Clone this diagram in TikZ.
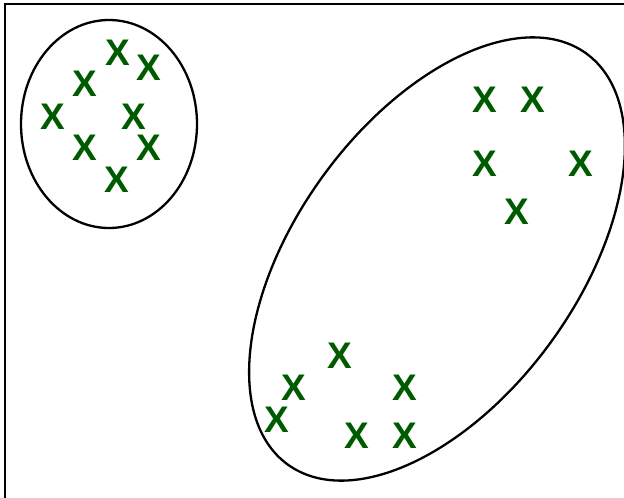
\documentclass[tikz,border=0pt]{standalone}
\usepackage{fontspec}
\setmainfont{Liberation Sans}
\usepackage{tikz}
\definecolor{ClusterGreen}{HTML}{005A00}

\begin{document}
\begin{tikzpicture}[x=1pt,y=-1pt,
    pt/.style={text=ClusterGreen,font=\fontsize{37}{37}\selectfont\bfseries,inner sep=0pt},
    ring/.style={draw=black,line width=2.3pt}
  ]
    \clip (0,0) rectangle (624,498);
    \draw[line width=2.6pt] (5,4) rectangle (660,530);
    % small cluster
    \draw[ring] (109,124) ellipse [x radius=88pt,y radius=104pt];
    \node[pt] (a1) at (118,53) {X};
    \node[pt] (a2) at (149,68) {X};
    \node[pt] (a3) at (85,84) {X};
    \node[pt] (a4) at (53,117) {X};
    \node[pt] (a5) at (134,117) {X};
    \node[pt] (a6) at (85,148) {X};
    \node[pt] (a7) at (149,148) {X};
    \node[pt] (a8) at (117,180) {X};
    % large cluster
    \draw[ring,shift={(437,259)},rotate=54] (0,0) ellipse [x radius=254pt,y radius=141pt];
    \node[pt] (b1) at (485,100) {X};
    \node[pt] (b2) at (533,100) {X};
    \node[pt] (b3) at (485,164) {X};
    \node[pt] (b4) at (581,164) {X};
    \node[pt] (b5) at (517,212) {X};
    \node[pt] (c1) at (340,356) {X};
    \node[pt] (c2) at (294,388) {X};
    \node[pt] (c3) at (405,388) {X};
    \node[pt] (c4) at (277,420) {X};
    \node[pt] (c5) at (357,436) {X};
    \node[pt] (c6) at (405,436) {X};
  \end{tikzpicture}
\end{document}
